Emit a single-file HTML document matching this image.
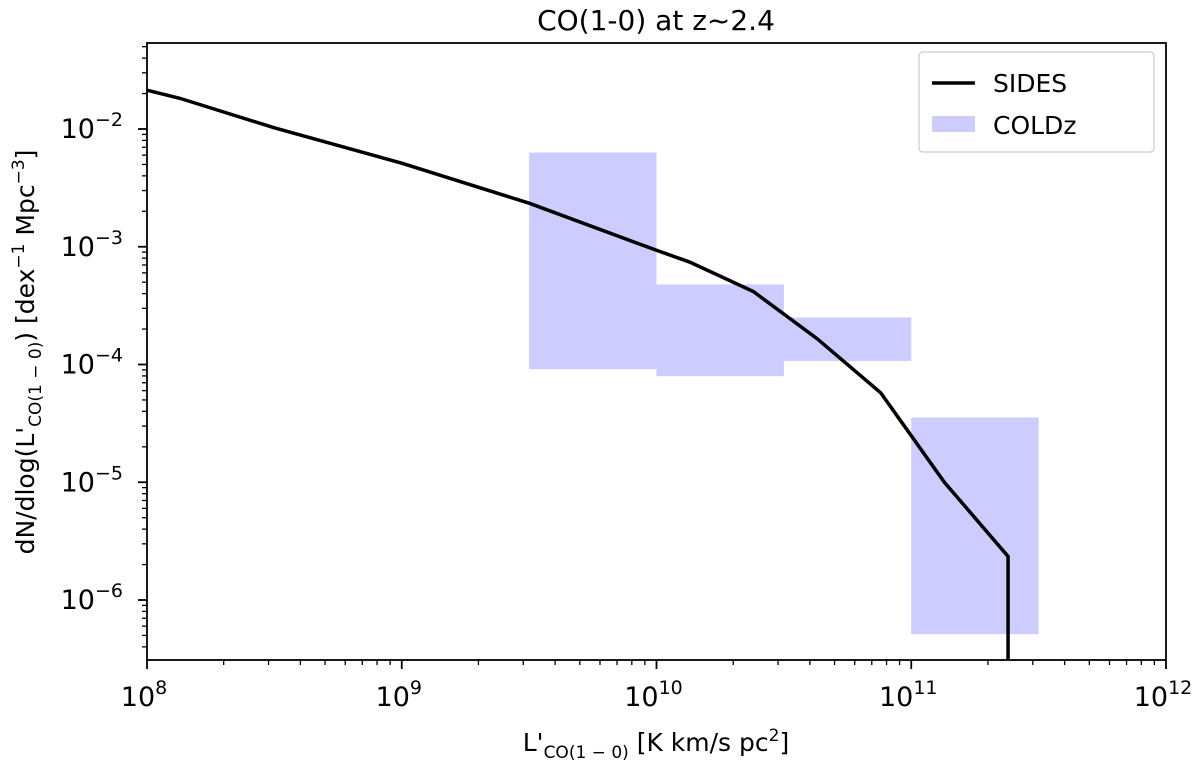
<!DOCTYPE html>
<html><head><meta charset="utf-8"><style>
body{margin:0;background:#fff;}
svg text{font-family:"DejaVu Sans","Liberation Sans",sans-serif;fill:#000;}
</style></head><body>
<svg id="chart" width="1200" height="765" xmlns="http://www.w3.org/2000/svg">
<text x="656" y="30" font-size="28" text-anchor="middle">CO(1-0) at z~2.4</text>
<g id="boxes"></g>
<g id="line"></g>
<rect x="147" y="43" width="1019" height="617" fill="none" stroke="#000" stroke-width="1.8"/>
<g id="xt"></g>
<g id="yt"></g>
<text x="656" y="751" font-size="25" text-anchor="middle">L'<tspan font-size="17" dy="7">CO(1 − 0)</tspan><tspan dy="-7"> [K km/s pc</tspan><tspan font-size="17" dy="-10">2</tspan><tspan dy="10">]</tspan></text>
<text transform="translate(34,352) rotate(-90)" font-size="25" text-anchor="middle">dN/dlog(L'<tspan font-size="17" dy="7">CO(1 − 0)</tspan><tspan dy="-7">) [dex</tspan><tspan font-size="17" dy="-10">−1</tspan><tspan dy="10"> Mpc</tspan><tspan font-size="17" dy="-10">−3</tspan><tspan dy="10">]</tspan></text>
<g>
<rect x="919" y="52" width="235" height="100" rx="4" fill="#fff" stroke="#ccc" stroke-width="1.2"/>
<line x1="932" y1="83" x2="975" y2="83" stroke="#000" stroke-width="3.5"/>
<text x="993" y="92" font-size="25">SIDES</text>
<rect x="932" y="116" width="43" height="16" fill="#ccccff"/>
<text x="993" y="134" font-size="25">COLDz</text>
</g>
</svg>
<script>
const sidesLogL=[8,8.13,8.5,9.0,9.5,10.0,10.13,10.38,10.63,10.88,11.13,11.38,11.38];
const sidesLogN=[-1.67,-1.74,-1.99,-2.29,-2.63,-3.03,-3.13,-3.38,-3.78,-4.24,-5.0,-5.63,-7];
const coldzLogLmin=[9.5,10.0,10.5,11.0];
const coldzLogLmax=[10.0,10.5,11.0,11.5];
const coldzLogNhi=[-2.2,-3.32,-3.6,-4.45];
const coldzLogNlo=[-4.04,-4.1,-3.97,-6.29];
const xTicks=[8,9,10,11,12];
const yTicks=[-2,-3,-4,-5,-6];
const NS="http://www.w3.org/2000/svg";
const X=l=>147+(l-8)*254.75;
const Y=l=>129-(l+2)*117.75;
function mk(t,a,p){const e=document.createElementNS(NS,t);for(const k in a)e.setAttribute(k,a[k]);p.appendChild(e);return e;}
const bx=document.getElementById('boxes');
coldzLogLmin.forEach((v,i)=>{
 const r=mk('rect',{x:X(v),y:Y(coldzLogNhi[i]),width:X(coldzLogLmax[i])-X(v),height:Y(coldzLogNlo[i])-Y(coldzLogNhi[i]),fill:'#ccccff'},bx);
 
 
});
const lg=document.getElementById('line');
const d=sidesLogL.map((v,i)=>(i?'L':'M')+X(v)+','+Math.min(660,Y(sidesLogN[i]))).join(' ');
const pth=mk('path',{d:d,fill:'none',stroke:'#000','stroke-width':3.5},lg);


const xt=document.getElementById('xt');
xTicks.forEach(t=>{
 const l=mk('line',{x1:X(t),x2:X(t),y1:660,y2:669,stroke:'#000','stroke-width':1.8},xt);
 
 
 for(let m=2;m<10&&t<12;m++){const xm=X(t+Math.log10(m));const ml=mk('line',{x1:xm,x2:xm,y1:660,y2:665,stroke:'#000','stroke-width':1.3},xt);
 
 }
 const tx=mk('text',{x:X(t)-3,y:706,'font-size':27,'text-anchor':'middle'},xt);
 
 
 tx.innerHTML='10<tspan font-size="19" dy="-12">'+t+'</tspan>';
});
const yt=document.getElementById('yt');
yTicks.forEach(t=>{
 const l=mk('line',{x1:138,x2:147,y1:Y(t),y2:Y(t),stroke:'#000','stroke-width':1.8},yt);
 
 
 const tx=mk('text',{x:123,y:Y(t)+9,'font-size':27,'text-anchor':'end'},yt);
 
 
 tx.innerHTML='10<tspan font-size="19" dy="-12">−'+(-t)+'</tspan>';
});
for(let t=-7;t<=-2;t++)for(let m=2;m<10;m++){const y=Y(t+Math.log10(m));if(y<43||y>660)continue;
 const ml=mk('line',{x1:142,x2:147,y1:y,y2:y,stroke:'#000','stroke-width':1.3},yt);
 
 }
</script>
</body></html>
